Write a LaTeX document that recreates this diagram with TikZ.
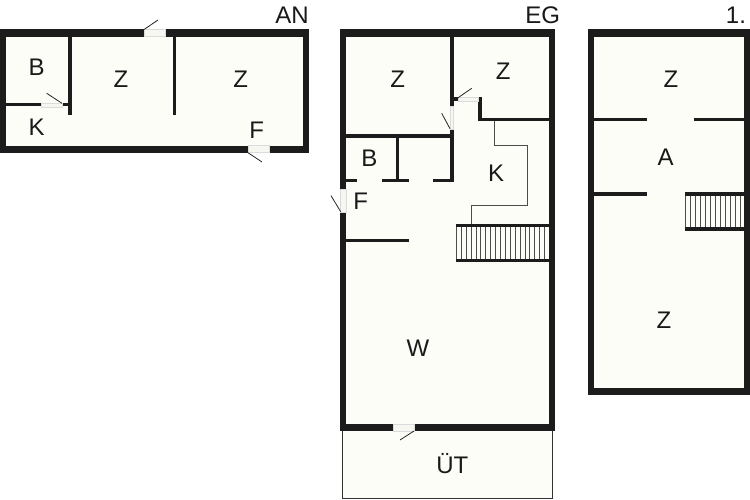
\documentclass[tikz,border=0pt]{standalone}
\usepackage{fontspec}
\setmainfont{Liberation Sans}
\definecolor{wallc}{HTML}{1C1C1C}
\definecolor{floorc}{HTML}{FDFDF8}
\definecolor{sillc}{HTML}{F7F7F1}
\tikzset{
  wall/.style={fill=wallc,draw=none},
  floorarea/.style={fill=floorc,draw=none},
  sill/.style={fill=sillc,draw=black!14,line width=0.4pt},
  leaf/.style={draw=black!85,line width=0.8pt},
  tread/.style={draw=black!70,line width=0.7pt},
  counter/.style={draw=black!70,line width=0.9pt},
  terrace/.style={fill=floorc,draw=black!80,line width=1.4pt},
  lbl/.style={anchor=base,inner sep=0pt,font=\fontsize{24}{24}\selectfont,text=black!90},
}
\begin{document}
\begin{tikzpicture}[x=1pt,y=-1pt]
\useasboundingbox (0,0) rectangle (750,500);
\fill[white] (0,0) rectangle (750,500);
% --- AN ---
\fill[wall] (0,29.5) rectangle (309.3,152.7);
\fill[floorarea] (6,36.7) rectangle (302.7,145.7);
\fill[wall] (68,36) rectangle (71.5,115);
\fill[wall] (172.5,36) rectangle (176,115);
\fill[wall] (6,103) rectangle (40.7,106.5);
\fill[wall] (62,103) rectangle (70,106.5);
\draw[sill] (40.7,103.5) rectangle (62,107);
\draw[sill] (144,29.5) rectangle (164.7,36.7);
\draw[sill] (248,145.7) rectangle (268.7,152.7);
\draw[leaf] (144,29.5) -- (158,20);
\draw[leaf] (248,152.7) -- (262,162);
\draw[leaf] (62,103.3) -- (46.7,93.3);
% --- EG ---
\draw[terrace] (342.7,428) -- (342.7,498.7) -- (552.7,498.7) -- (552.7,428) -- cycle;
\fill[wall] (340,29.5) rectangle (555,431);
\fill[floorarea] (346,36.7) rectangle (549,424);
\fill[wall] (450,36) rectangle (453.7,106.7);
\fill[wall] (450,129) rectangle (453.7,182);
\fill[wall] (453.7,97.5) rectangle (457.7,101);
\fill[wall] (478.3,97.3) rectangle (482.3,121);
\fill[wall] (478.3,117.7) rectangle (549,121);
\fill[wall] (346,134.3) rectangle (450,137.7);
\fill[wall] (396,137) rectangle (399,181);
\fill[wall] (346,178.7) rectangle (356.7,182);
\fill[wall] (381.7,178.7) rectangle (409.3,182);
\fill[wall] (432.7,178.7) rectangle (453.7,182);
\fill[wall] (346,238.7) rectangle (409.3,242.3);
\draw[sill] (450.5,106.7) rectangle (453.5,129);
\draw[sill] (457.7,97.5) rectangle (478.3,101);
\draw[sill] (340,189) rectangle (346,211.7);
\draw[sill] (393.3,424) rectangle (414,431);
\draw[leaf] (450,128.7) -- (441.7,113.3);
\draw[leaf] (457.7,98) -- (471.7,88.3);
\draw[leaf] (340.7,211.7) -- (331,195.7);
\draw[leaf] (414,431) -- (400,440);
\draw[counter] (494.3,121) -- (494.3,145.7) -- (527.7,145.7) -- (527.7,205.7) -- (471.7,205.7) -- (471.7,224);
\foreach \i in {0,...,18} \draw[tread] ({456.3+\i*4.9},226) -- ({456.3+\i*4.9},259);
\fill[wall] (456,223.7) rectangle (549,227);
\fill[wall] (456,258.7) rectangle (549,262);
% --- 1. ---
\fill[wall] (588.3,29.5) rectangle (750,395);
\fill[floorarea] (594.3,36.7) rectangle (743.7,388);
\fill[wall] (594,117.7) rectangle (647,121);
\fill[wall] (693.7,117.7) rectangle (744,121);
\fill[wall] (594,192) rectangle (647,195.7);
\foreach \i in {0,...,11} \draw[tread] ({685.3+\i*5.0},194) -- ({685.3+\i*5.0},228);
\fill[wall] (685,192) rectangle (744,195.7);
\fill[wall] (685,227) rectangle (744,230.7);
% --- labels ---
\node[lbl] (anT) at (292,23.3) {AN};
\node[lbl] (anB) at (36.7,76) {B};
\node[lbl] (anZa) at (121,87.7) {Z};
\node[lbl] (anZb) at (240.7,87.7) {Z};
\node[lbl] (anK) at (36.7,136) {K};
\node[lbl] (anF) at (256.7,138.5) {F};
\node[lbl] (egT) at (542.7,23.3) {EG};
\node[lbl] (egZa) at (397.7,87.7) {Z};
\node[lbl] (egZb) at (503.3,80) {Z};
\node[lbl] (egB) at (369.3,166.5) {B};
\node[lbl] (egK) at (496,181.5) {K};
\node[lbl] (egF) at (360.7,210) {F};
\node[lbl] (egW) at (418,356.5) {W};
\node[lbl] (egU) at (452.3,473) {ÜT};
\node[lbl] (obT) at (736,23.3) {1.};
\node[lbl] (obZa) at (671,87.7) {Z};
\node[lbl] (obA) at (665.7,165) {A};
\node[lbl] (obZb) at (664,328.5) {Z};
\end{tikzpicture}
\end{document}
